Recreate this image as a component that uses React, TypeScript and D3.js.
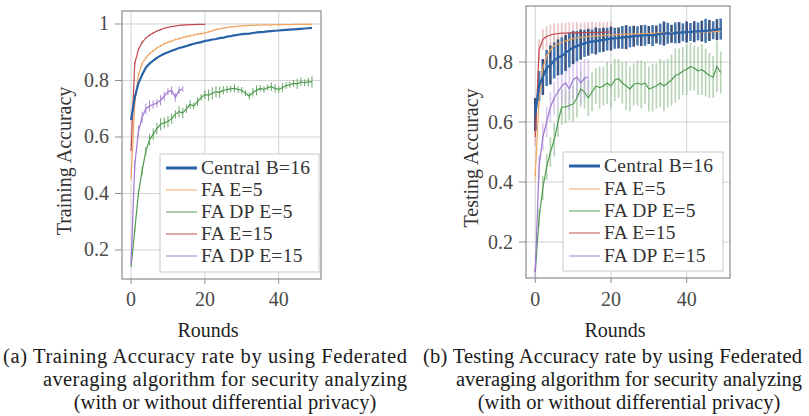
import * as React from 'react';
import * as d3 from 'd3';

// ---- data ----
const seriesNames = ['Central B=16', 'FA E=5', 'FA DP E=5', 'FA E=15', 'FA DP E=15'];

const trainCentral = [0.66, 0.74, 0.79, 0.82, 0.845, 0.86, 0.87, 0.88, 0.888, 0.895, 0.9, 0.905, 0.91, 0.915, 0.918, 0.922, 0.926, 0.93, 0.933, 0.936, 0.94, 0.942, 0.945, 0.947, 0.95, 0.952, 0.955, 0.957, 0.96, 0.962, 0.964, 0.965, 0.966, 0.968, 0.97, 0.971, 0.972, 0.974, 0.975, 0.976, 0.977, 0.978, 0.979, 0.98, 0.981, 0.982, 0.983, 0.984, 0.985, 0.986];
const trainFaE5 = [0.45, 0.72, 0.82, 0.86, 0.88, 0.895, 0.905, 0.915, 0.922, 0.93, 0.935, 0.94, 0.945, 0.948, 0.952, 0.955, 0.958, 0.961, 0.964, 0.966, 0.968, 0.972, 0.976, 0.98, 0.983, 0.985, 0.988, 0.99, 0.991, 0.992, 0.993, 0.994, 0.995, 0.995, 0.996, 0.996, 0.997, 0.997, 0.997, 0.998, 0.998, 0.998, 0.998, 0.998, 0.999, 0.999, 0.999, 0.999, 0.999, 0.999];
const trainFaE5Err = [0, 0.01, 0.006, 0.005, 0.004, 0.004, 0.004, 0.004, 0.004, 0.004, 0.004, 0.004, 0.004, 0.004, 0.004, 0.004, 0.004, 0.004, 0.004, 0.004, 0.004, 0.004, 0.004, 0.003, 0.003, 0.003, 0.003, 0.003, 0.003, 0.003, 0.003, 0.003, 0.002, 0.002, 0.002, 0.002, 0.002, 0.002, 0.002, 0.002, 0.002, 0.002, 0.002, 0.002, 0.002, 0.002, 0.002, 0.002, 0.002, 0.002];
const trainDpE5 = [0.14, 0.27, 0.4, 0.48, 0.55, 0.59, 0.61, 0.63, 0.645, 0.65, 0.655, 0.665, 0.68, 0.69, 0.685, 0.7, 0.715, 0.71, 0.725, 0.74, 0.75, 0.748, 0.755, 0.76, 0.758, 0.765, 0.768, 0.77, 0.772, 0.768, 0.765, 0.755, 0.745, 0.758, 0.765, 0.772, 0.768, 0.775, 0.778, 0.772, 0.768, 0.775, 0.782, 0.785, 0.79, 0.788, 0.795, 0.792, 0.795, 0.795];
const trainDpE5Err = [0, 0.01, 0.012, 0.015, 0.015, 0.02, 0.02, 0.02, 0.022, 0.02, 0.02, 0.018, 0.015, 0.02, 0.018, 0.015, 0.015, 0.012, 0.015, 0.012, 0.015, 0.02, 0.022, 0.02, 0.02, 0.015, 0.012, 0.012, 0.015, 0.012, 0.012, 0.01, 0.012, 0.015, 0.018, 0.012, 0.012, 0.01, 0.015, 0.015, 0.012, 0.015, 0.012, 0.01, 0.012, 0.018, 0.015, 0.012, 0.015, 0.02];
const trainFaE15 = [0.55, 0.86, 0.91, 0.935, 0.95, 0.96, 0.968, 0.975, 0.98, 0.985, 0.988, 0.991, 0.993, 0.995, 0.996, 0.997, 0.998, 0.998, 0.999, 0.999, 0.999];
const trainFaE15Err = [0, 0.006, 0.004, 0.004, 0.003, 0.003, 0.003, 0.003, 0.003, 0.002, 0.002, 0.002, 0.002, 0.002, 0.002, 0.002, 0.001, 0.001, 0.001, 0.001, 0.001];
const trainDpE15 = [0.15, 0.5, 0.62, 0.67, 0.7, 0.71, 0.715, 0.72, 0.73, 0.745, 0.76, 0.765, 0.74, 0.765, 0.77];
const trainDpE15Err = [0, 0.015, 0.02, 0.02, 0.018, 0.02, 0.015, 0.015, 0.018, 0.015, 0.012, 0.015, 0.015, 0.012, 0.01];

const testCentral = [0.625, 0.72, 0.75, 0.78, 0.79, 0.805, 0.815, 0.82, 0.83, 0.84, 0.848, 0.853, 0.858, 0.862, 0.866, 0.868, 0.87, 0.872, 0.874, 0.876, 0.878, 0.879, 0.88, 0.882, 0.883, 0.884, 0.886, 0.887, 0.888, 0.889, 0.89, 0.888, 0.892, 0.893, 0.895, 0.896, 0.894, 0.897, 0.898, 0.899, 0.9, 0.9, 0.901, 0.902, 0.903, 0.904, 0.905, 0.906, 0.908, 0.91];
const testCentralErr = [0.055, 0.05, 0.06, 0.06, 0.065, 0.06, 0.06, 0.062, 0.06, 0.058, 0.055, 0.05, 0.05, 0.045, 0.045, 0.04, 0.045, 0.04, 0.04, 0.038, 0.04, 0.035, 0.035, 0.038, 0.04, 0.035, 0.035, 0.032, 0.035, 0.035, 0.03, 0.035, 0.03, 0.035, 0.04, 0.035, 0.03, 0.035, 0.035, 0.03, 0.035, 0.03, 0.035, 0.03, 0.035, 0.04, 0.035, 0.03, 0.035, 0.035];
const testFaE5 = [0.42, 0.68, 0.78, 0.82, 0.84, 0.855, 0.86, 0.865, 0.87, 0.874, 0.878, 0.88, 0.882, 0.883, 0.885, 0.886, 0.887, 0.888, 0.889, 0.89, 0.89, 0.891, 0.892, 0.892, 0.893, 0.893, 0.894, 0.894, 0.895, 0.895, 0.895, 0.896, 0.896, 0.897, 0.897, 0.898, 0.898, 0.898, 0.899, 0.899, 0.9, 0.9, 0.9, 0.9, 0.9, 0.9, 0.9, 0.901, 0.901, 0.901];
const testFaE5Err = [0.02, 0.03, 0.03, 0.03, 0.025, 0.025, 0.025, 0.025, 0.025, 0.025, 0.025, 0.025, 0.025, 0.025, 0.025, 0.025, 0.025, 0.025, 0.025, 0.025, 0.025, 0.025, 0.025, 0.025, 0.025, 0.025, 0.025, 0.025, 0.025, 0.025, 0.025, 0.025, 0.025, 0.025, 0.025, 0.025, 0.025, 0.025, 0.025, 0.025, 0.025, 0.025, 0.025, 0.025, 0.025, 0.025, 0.025, 0.025, 0.025, 0.025];
const testDpE5 = [0.1, 0.28, 0.38, 0.45, 0.5, 0.54, 0.6, 0.65, 0.65, 0.655, 0.66, 0.68, 0.71, 0.7, 0.68, 0.7, 0.72, 0.715, 0.72, 0.73, 0.72, 0.74, 0.745, 0.73, 0.72, 0.71, 0.725, 0.73, 0.725, 0.73, 0.71, 0.715, 0.72, 0.73, 0.72, 0.73, 0.74, 0.755, 0.76, 0.77, 0.775, 0.785, 0.78, 0.77, 0.775, 0.765, 0.755, 0.75, 0.785, 0.765];
const testDpE5Err = [0.02, 0.03, 0.04, 0.045, 0.05, 0.055, 0.05, 0.06, 0.055, 0.05, 0.06, 0.065, 0.06, 0.055, 0.06, 0.065, 0.06, 0.07, 0.065, 0.07, 0.075, 0.07, 0.065, 0.07, 0.08, 0.075, 0.07, 0.075, 0.08, 0.07, 0.075, 0.08, 0.075, 0.08, 0.085, 0.08, 0.085, 0.09, 0.085, 0.08, 0.085, 0.08, 0.075, 0.08, 0.085, 0.08, 0.075, 0.07, 0.085, 0.07];
const testFaE15 = [0.55, 0.84, 0.875, 0.885, 0.89, 0.893, 0.895, 0.896, 0.896, 0.897, 0.897, 0.898, 0.897, 0.898, 0.898, 0.899, 0.898, 0.899, 0.899, 0.9, 0.9];
const testFaE15Err = [0.03, 0.035, 0.035, 0.035, 0.035, 0.035, 0.035, 0.035, 0.035, 0.035, 0.035, 0.035, 0.035, 0.035, 0.035, 0.035, 0.035, 0.035, 0.035, 0.035, 0.035];
const testDpE15 = [0.1, 0.45, 0.55, 0.6, 0.65, 0.68, 0.7, 0.72, 0.73, 0.71, 0.74, 0.75, 0.73, 0.745, 0.75];
const testDpE15Err = [0.02, 0.04, 0.045, 0.05, 0.05, 0.055, 0.05, 0.06, 0.065, 0.07, 0.065, 0.07, 0.07, 0.065, 0.06];

const xTicks = [0, 20, 40];
const trainYTicks = [0.2, 0.4, 0.6, 0.8, 1];
const testYTicks = [0.2, 0.4, 0.6, 0.8];

const captionA = ['(a) Training Accuracy rate by using Federated', 'averaging algorithm for security analyzing', '(with or without differential privacy)'];
const captionB = ['(b) Testing Accuracy rate by using Federated', 'averaging algorithm for security analyzing', '(with or without differential privacy)'];

// ---- styles ----
const FONT = '"Liberation Serif", "Times New Roman", serif';
const colors = ['#2862a8', '#f0a55e', '#4f9a4f', '#c24b50', '#9f77d2'];
const barColors = ['#1b3a70', '#f3bb86', '#86b886', '#dc9aa0', '#c4a8e6'];

type Series = { name: string; color: string; values: number[]; err?: number[] };

const trainSeries: Series[] = [
  { name: seriesNames[1], color: colors[1], values: trainFaE5, err: trainFaE5Err },
  { name: seriesNames[2], color: colors[2], values: trainDpE5, err: trainDpE5Err },
  { name: seriesNames[3], color: colors[3], values: trainFaE15, err: trainFaE15Err },
  { name: seriesNames[4], color: colors[4], values: trainDpE15, err: trainDpE15Err },
  { name: seriesNames[0], color: colors[0], values: trainCentral },
];
const testSeries: Series[] = [
  { name: seriesNames[2], color: colors[2], values: testDpE5, err: testDpE5Err },
  { name: seriesNames[4], color: colors[4], values: testDpE15, err: testDpE15Err },
  { name: seriesNames[1], color: colors[1], values: testFaE5, err: testFaE5Err },
  { name: seriesNames[3], color: colors[3], values: testFaE15, err: testFaE15Err },
  { name: seriesNames[0], color: colors[0], values: testCentral, err: testCentralErr },
];

function Panel(props: any) {
  const { frame, yDomain, yTicks, series, yLabel, yLabelPos, legend, tickRight, testing, roundsX } = props;
  const x = d3.scaleLinear().domain([-2.45, 51.45]).range([frame.x0, frame.x1]);
  const y = d3.scaleLinear().domain(yDomain).range([frame.y1, frame.y0]);
  const line = d3.line<number>().x((d, i) => x(i)).y(d => y(d));

  return (
    <g>
      {/* grid */}
      {yTicks.map((t: number) => (
        <line key={'gy' + t} x1={frame.x0} x2={frame.x1} y1={y(t)} y2={y(t)} stroke="#d2d2d2" strokeWidth={1} />
      ))}
      {xTicks.map(t => (
        <line key={'gx' + t} x1={x(t)} x2={x(t)} y1={frame.y0} y2={frame.y1} stroke="#d2d2d2" strokeWidth={1} />
      ))}
      {/* error bars */}
      {series.map((s: Series) => {
        const ci = colors.indexOf(s.color);
        const central = ci === 0;
        return s.err ? (
          <g key={'e' + s.name} opacity={testing ? (central ? 0.85 : 0.6) : 0.85}>
            {s.values.map((v, i) => (
              <line key={i} x1={x(i)} x2={x(i)} y1={y(v - s.err![i])} y2={y(v + s.err![i])}
                stroke={testing ? (central && i % 2 ? colors[0] : barColors[ci]) : s.color}
                strokeWidth={testing ? (central ? 2.6 : 1.6) : 1} />
            ))}
          </g>
        ) : null;
      })}
      {/* lines */}
      {series.map((s: Series) => (
        <path key={'l' + s.name} d={line(s.values) || ''} fill="none" stroke={s.color}
          strokeWidth={s.color === colors[0] ? 2.2 : 1.2} strokeLinejoin="round" />
      ))}
      {/* frame */}
      <rect x={frame.x0} y={frame.y0} width={frame.x1 - frame.x0} height={frame.y1 - frame.y0}
        fill="none" stroke="#8c8c8c" strokeWidth={1.2} />
      {/* y ticks */}
      {yTicks.map((t: number) => (
        <g key={'ty' + t}>
          <line x1={frame.x0 - 7} x2={frame.x0} y1={y(t)} y2={y(t)} stroke="#8c8c8c" />
          <text x={tickRight} y={y(t) + 6.5} textAnchor="end" fontFamily={FONT} fontSize={20} fill="#4a4a4a">
            {d3.format('~g')(t)}
          </text>
        </g>
      ))}
      {/* x ticks */}
      {xTicks.map(t => (
        <g key={'tx' + t}>
          <line x1={x(t)} x2={x(t)} y1={frame.y1} y2={frame.y1 + 5} stroke="#8c8c8c" />
          <text x={x(t)} y={306} textAnchor="middle" fontFamily={FONT} fontSize={20} fill="#4a4a4a">{t}</text>
        </g>
      ))}
      <text x={roundsX} y={337} textAnchor="middle" fontFamily={FONT} fontSize={20} fill="#222">Rounds</text>
      <text transform={`translate(${yLabelPos[0]},${yLabelPos[1]}) rotate(-90)`} textAnchor="middle"
        fontFamily={FONT} fontSize={20} fill="#333">{yLabel}</text>
      {/* legend */}
      <rect x={legend.x0} y={legend.y0} width={legend.x1 - legend.x0} height={legend.y1 - legend.y0}
        fill="#ffffff" stroke="#c8c8c8" strokeWidth={1} />
      {seriesNames.map((n, i) => (
        <g key={'lg' + n}>
          <line x1={legend.x0 + 6} x2={legend.x0 + 37} y1={legend.rows[i]} y2={legend.rows[i]}
            stroke={colors[i]} strokeWidth={i === 0 ? 3 : 1.2} opacity={i === 0 ? 1 : 0.8} />
          <text x={legend.x0 + 41} y={legend.rows[i] + 6} fontFamily={FONT} fontSize={19.5} fill="#333"
            letterSpacing={0.3}>{n}</text>
        </g>
      ))}
    </g>
  );
}

function Caption({ lines, x0, x1, hang }: { lines: string[]; x0: number; x1: number; hang: number }) {
  const ys = [363, 386, 409];
  return (
    <g fontFamily={FONT} fontSize={20.5} fill="#1a1a1a">
      <text x={x0} y={ys[0]} textLength={x1 - x0} lengthAdjust="spacing">{lines[0]}</text>
      <text x={x0 + hang} y={ys[1]} textLength={x1 - x0 - hang} lengthAdjust="spacing">{lines[1]}</text>
      <text x={(x0 + hang + x1) / 2} y={ys[2]} textAnchor="middle">{lines[2]}</text>
    </g>
  );
}

export default function App() {
  return (
    <div style={{ position: 'fixed', left: 0, top: 0, background: '#fff' }}>
      <svg width={809} height={416} style={{ display: 'block' }}>
        <rect width={809} height={416} fill="#fff" />
        <Panel
          frame={{ x0: 122, x1: 321, y0: 11, y1: 279 }}
          yDomain={[0.0973, 1.046]}
          yTicks={trainYTicks}
          series={trainSeries}
          yLabel="Training Accuracy"
          yLabelPos={[71, 161]}
          tickRight={109}
          roundsX={208}
          legend={{ x0: 160, x1: 319, y0: 154, y1: 272, rows: [168, 190, 212, 234, 256] }}
        />
        <Panel
          frame={{ x0: 526, x1: 730, y0: 6, y1: 278 }}
          yDomain={[0.08, 0.9867]}
          yTicks={testYTicks}
          series={testSeries}
          yLabel="Testing Accuracy"
          yLabelPos={[478, 158]}
          tickRight={513}
          roundsX={615}
          testing
          legend={{ x0: 563, x1: 723, y0: 152, y1: 271, rows: [166, 189, 211, 233, 256] }}
        />
        <Caption lines={captionA} x0={3} x1={407} hang={40} />
        <Caption lines={captionB} x0={423} x1={802} hang={33} />
      </svg>
    </div>
  );
}
